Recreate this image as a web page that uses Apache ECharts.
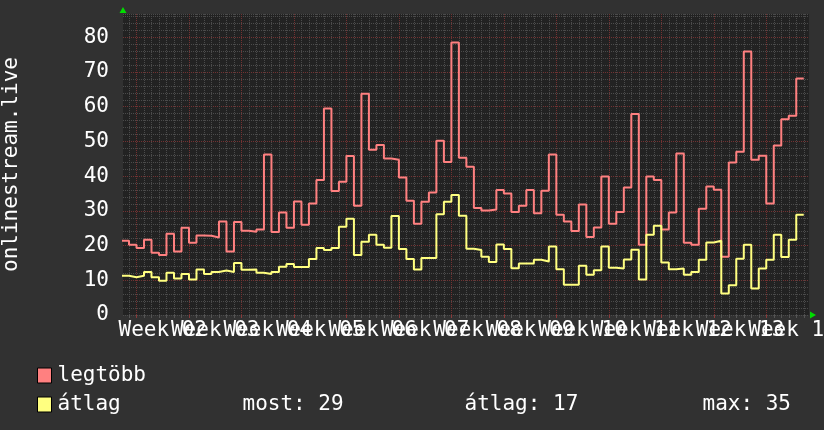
<!DOCTYPE html>
<html>
<head>
<meta charset="utf-8">
<script src="https://cdn.jsdelivr.net/npm/echarts@6/dist/echarts.min.js"></script>
<style>
html, body { margin: 0; padding: 0; background: #313131; }
#chart { width: 824px; height: 430px; }
</style>
</head>
<body>
<div id="chart"></div>
<script>
// ---- data (daily values, one per day) ----
const seriesNames = ['legtöbb', 'átlag'];
const weekLabels = ['Week 02', 'Week 03', 'Week 04', 'Week 05', 'Week 06', 'Week 07', 'Week 08',
  'Week 09', 'Week 10', 'Week 11', 'Week 12', 'Week 13', 'Week 14'];
const maxValues = [
  21.4, 20.2, 19.3, 21.7, 17.9, 17.3, 23.4, 18.3, 25.1, 20.8, 22.9, 22.8, 22.3, 26.9, 18.3, 26.8,
  24.3, 24.0, 24.6, 46.2, 23.9, 29.5, 25.1, 32.7, 26.0, 32.1, 38.9, 59.5, 35.7, 38.4, 45.8,
  31.5, 63.7, 47.6, 49.0, 45.1, 44.7, 39.6, 32.9, 26.3, 32.6, 35.3, 50.2, 44.1, 78.5, 45.3, 42.7,
  30.8, 30.1, 30.4, 36.0, 35.0, 29.7, 31.5, 36.0, 29.3, 35.8, 46.2, 28.9, 26.9, 24.2, 31.8,
  22.5, 25.2, 39.9, 26.3, 29.7, 36.7, 57.9, 20.2, 39.9, 38.9, 24.6, 29.5, 46.5, 20.8, 20.2,
  30.6, 37.0, 36.1, 16.8, 43.9, 47.0, 75.9, 44.7, 45.9, 32.1, 48.8, 56.4, 57.4, 68.1
];
const avgValues = [
  11.3, 10.9, 11.3, 12.4, 10.9, 9.9, 12.2, 10.5, 11.8, 10.2, 13.1, 11.8, 12.4, 12.8, 12.4, 15.0,
  13.0, 13.1, 12.2, 11.8, 12.4, 13.9, 14.7, 13.8, 13.8, 16.1, 19.3, 18.7, 19.3, 25.4, 27.7,
  17.3, 21.1, 23.1, 20.2, 19.4, 28.5, 19.0, 16.1, 13.1, 16.4, 16.4, 29.0, 32.6, 34.6, 28.6, 19.1,
  18.7, 16.8, 15.3, 20.3, 19.0, 13.5, 14.8, 14.8, 15.9, 15.4, 19.7, 13.2, 8.7, 8.7, 14.2,
  11.6, 12.9, 19.7, 13.6, 13.4, 16.0, 18.8, 10.2, 23.1, 25.7, 15.1, 13.2, 13.4, 11.6, 12.4,
  15.9, 20.9, 21.4, 6.2, 8.6, 16.2, 20.2, 7.6, 13.4, 15.9, 23.1, 16.7, 21.7, 28.9
];
const statLabels = ['most', 'átlag', 'max'];
const statValues = [29, 17, 35];

// ---- layout / style ----
const FONT = 'DejaVu Sans Mono';
const FS = 21;
const X_MIN = 0.2, X_MAX = 91.7;       // days
const Y_MAX = 86.7;
// fine category slots (tenths of a day) used only for grid lines / week labels
const T0 = Math.round(X_MIN * 10);
const nSlots = Math.round((X_MAX - X_MIN) * 10) + 1;
const slotCats = Array.from({ length: nSlots }, (_, i) => String(T0 + i));
const isWeek = i => (T0 + i - 20) % 70 === 0;
const isDay = i => (T0 + i) % 10 === 0 && !isWeek(i);
const isLabel = t => (t - 55) >= 0 && (t - 55) % 70 === 0;

function stepData(vals) {
  const d = vals.map((v, j) => [j, v]);
  d.push([vals.length, vals[vals.length - 1]]);
  return d;
}

const minorColor = '#4b4b4b';
const majorColor = '#733232';
const arrowColor = '#00dd00';
const txt = { color: '#ffffff', fontFamily: FONT, fontSize: FS };
const hiddenCat = {
  type: 'category', data: slotCats, boundaryGap: false, position: 'bottom',
  axisLine: { show: false }, axisTick: { show: false }, axisLabel: { show: false }
};

const chart = echarts.init(document.getElementById('chart'), null, { renderer: 'canvas' });
chart.setOption({
  backgroundColor: '#313131',
  animation: false,
  grid: { left: 123, right: 15, top: 14, bottom: 115, show: true, backgroundColor: '#222222', borderWidth: 0,
    containLabel: false, outerBoundsMode: 'none' },
  legend: {
    orient: 'vertical', left: 32, top: 360, itemWidth: 14, itemHeight: 15, itemGap: 8,
    icon: 'rect', selectedMode: false,
    itemStyle: { borderColor: '#000000', borderWidth: 1 },
    data: seriesNames,
    formatter: name => name === seriesNames[1]
      ? `{n|${name}}{s0|${statLabels[0]}: ${statValues[0]}}{s1|${statLabels[1]}: ${statValues[1]}}{s2|${statLabels[2]}: ${statValues[2]}}`
      : `{n|${name}}`,
    textStyle: {
      ...txt, lineHeight: 20, padding: [0, 0, 0, 1],
      rich: {
        n: { ...txt, width: 185 },
        s0: { ...txt, width: 222 },
        s1: { ...txt, width: 238 },
        s2: { ...txt }
      }
    }
  },
  xAxis: [
    {
      type: 'value', min: X_MIN, max: X_MAX, position: 'bottom',
      axisLine: { show: true, symbol: ['none', 'triangle'], symbolSize: [7, 6], symbolOffset: [0, 4],
        lineStyle: { color: arrowColor, width: 0 } },
      axisTick: { show: false }, axisLabel: { show: false }, splitLine: { show: false }
    },
    {
      ...hiddenCat,
      axisTick: { show: true, interval: (i) => isDay(i), length: 3, lineStyle: { color: '#555555', width: 1 } },
      splitLine: { show: true, interval: (i) => isDay(i), lineStyle: { color: minorColor, width: 1, type: [1, 1] } }
    },
    {
      ...hiddenCat,
      axisTick: { show: true, interval: (i) => isWeek(i), length: 3, lineStyle: { color: '#8a3a3a', width: 1 } },
      splitLine: { show: true, interval: (i) => isWeek(i), lineStyle: { color: majorColor, width: 1, type: [1, 1] } }
    },
    {
      ...hiddenCat,
      splitLine: { show: false },
      axisLabel: {
        show: true, interval: 0, margin: 5, ...txt, lineHeight: 21,
        formatter: (v) => {
          const t = Number(v);
          return isLabel(t) ? (weekLabels[(t - 55) / 70] || '') : '';
        }
      }
    }
  ],
  yAxis: [
    {
      type: 'value', min: 0, max: Y_MAX, interval: 2, position: 'left',
      axisLine: { show: false }, axisTick: { show: false }, axisLabel: { show: false },
      splitLine: { show: true, lineStyle: { color: minorColor, width: 1, type: [1, 1] } }
    },
    {
      type: 'value', min: 0, max: Y_MAX, interval: 10, position: 'left',
      name: 'onlinestream.live', nameLocation: 'middle', nameRotate: 90, nameGap: 101,
      nameTextStyle: { ...txt },
      axisLine: { show: true, symbol: ['none', 'triangle'], symbolSize: [7, 6], symbolOffset: [0, 4],
        lineStyle: { color: arrowColor, width: 0 } },
      axisTick: { show: false },
      axisLabel: { ...txt, margin: 14, showMaxLabel: false },
      splitLine: { show: true, showMinLine: false, showMaxLine: false,
        lineStyle: { color: majorColor, width: 1, type: [1, 1] } }
    }
  ],
  series: [
    {
      name: seriesNames[0], type: 'line', step: 'end', xAxisIndex: 0, yAxisIndex: 0,
      data: stepData(maxValues), showSymbol: false, symbol: 'none',
      color: '#ff8080', lineStyle: { color: '#ff8080', width: 2 }, z: 3
    },
    {
      name: seriesNames[1], type: 'line', step: 'end', xAxisIndex: 0, yAxisIndex: 0,
      data: stepData(avgValues), showSymbol: false, symbol: 'none',
      color: '#ffff80', lineStyle: { color: '#ffff80', width: 2 }, z: 4
    }
  ]
});
</script>
</body>
</html>
